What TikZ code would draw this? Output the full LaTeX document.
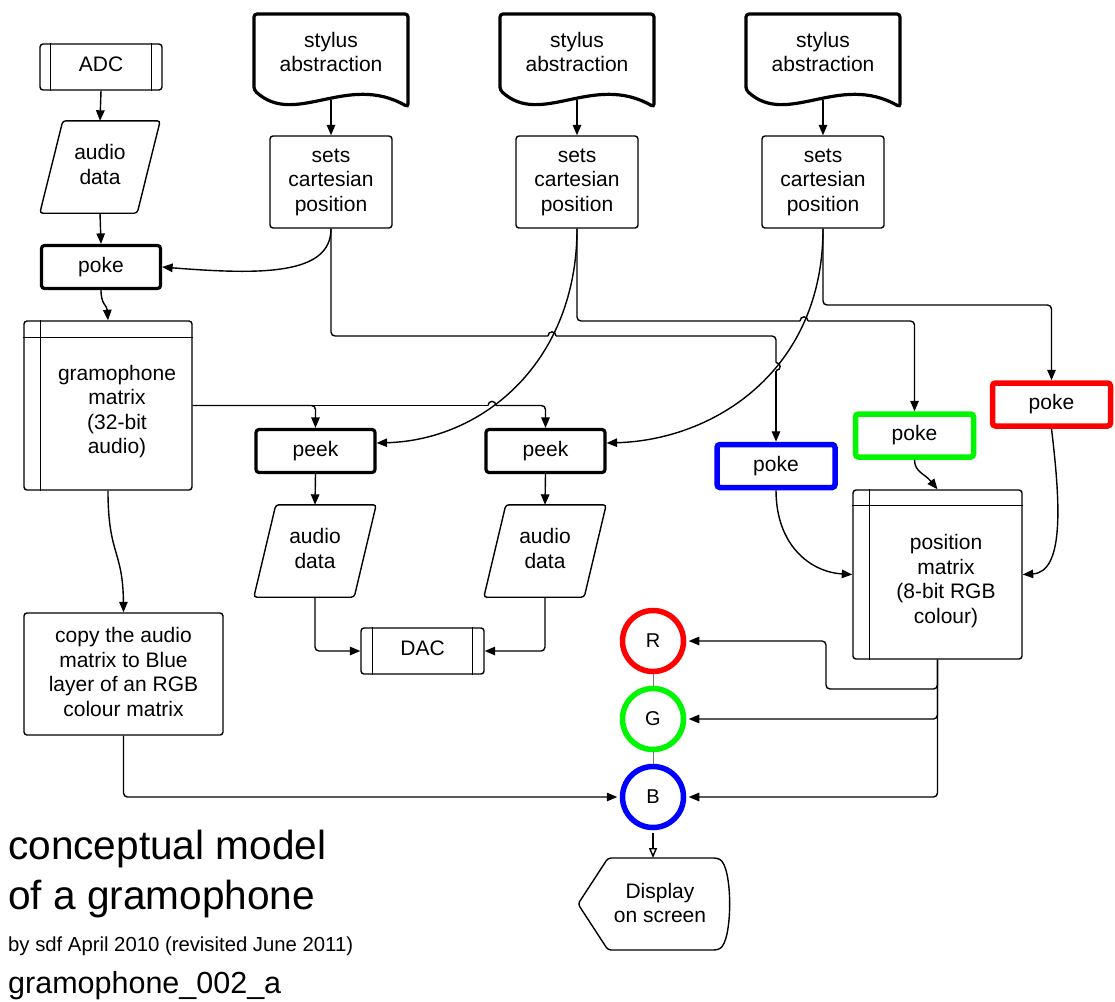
\documentclass[tikz,border=0pt]{standalone}
\usepackage{fontspec}
\setmainfont{Liberation Sans}
\usetikzlibrary{arrows.meta,calc}
\definecolor{pkred}{RGB}{255,0,0}
\definecolor{pkgreen}{RGB}{0,245,0}
\definecolor{pkblue}{RGB}{0,0,255}
\begin{document}
\begin{tikzpicture}[x=1pt,y=-1pt,
  every node/.style={inner sep=0pt, align=center, font=\fontsize{21}{24.5}\selectfont},
  conn/.style={line width=1.4pt},
  arr/.style={conn, -{Triangle[length=10.5pt,width=8.5pt]}},
  plain/.style={draw, line width=1.4pt, rounded corners=3pt},
  smallbox/.style={plain, minimum width=122pt, minimum height=46pt},
  heavybox/.style={draw, line width=3.2pt, rounded corners=3pt, minimum width=119pt, minimum height=43pt},
  colbox/.style={draw=#1, line width=5.5pt, rounded corners=3pt, minimum width=118pt, minimum height=43pt},
  rgb/.style={circle, draw=#1, line width=5.5pt, minimum size=61pt, font=\fontsize{20}{24}\selectfont},
  flow/.style={minimum width=122pt, minimum height=92pt}]

\fill[white] (0,0) rectangle (1115,1001);
\useasboundingbox (0,0) rectangle (1115,1001);

% ---------- left column ----------
\node[smallbox] (adc) at (101,67) {};
\node (adclabel) at (101,64.5) {ADC};
\draw[conn] ($(adc.north west)+(11,0)$) -- ($(adc.south west)+(11,0)$);
\draw[conn] ($(adc.north east)+(-11,0)$) -- ($(adc.south east)+(-11,0)$);

\node[minimum width=120pt, minimum height=92pt] (ad1) at (100,167) {};
\draw[plain] ($(ad1.north west)+(23,0)$) -- (ad1.north east) -- ($(ad1.south east)+(-23,0)$) -- (ad1.south west) -- cycle;
\node (ad1label) at (100,164.5) {audio\\data};

\node[heavybox] (pk0) at (101,267) {poke};

\node[plain, minimum width=168pt, minimum height=169pt] (gm) at (108,405.5) {};
\draw[conn] ($(gm.north west)+(0,17)$) -- ($(gm.north east)+(0,17)$);
\draw[conn] ($(gm.north west)+(17,0)$) -- ($(gm.south west)+(17,0)$);
\node (gmlabel) at (117,411.5) {gramophone\\matrix\\(32-bit\\audio)};

\node[plain, minimum width=199pt, minimum height=122pt] (copy) at (123.5,674) {};
\node (copylabel) at (123.5,672) {copy the audio\\matrix to Blue\\layer of an RGB\\colour matrix};

% ---------- stylus documents and positions ----------
\foreach \cx in {331,577,823} {
  \draw[line width=3.2pt, rounded corners=3pt]
    (\cx-77,90) -- (\cx-77,14) -- (\cx+77,14) -- (\cx+77,107)
    .. controls (\cx+16,72) and (\cx-36,128) .. (\cx-77,90) -- cycle;
}
\node (st1) at (331,52) {stylus\\abstraction};
\node (st2) at (577,52) {stylus\\abstraction};
\node (st3) at (823,52) {stylus\\abstraction};
\coordinate (stb1) at (331,100);
\coordinate (stb2) at (577,100);
\coordinate (stb3) at (823,100);

\node[plain, flow] (s1) at (331,182) {sets\\cartesian\\position};
\node[plain, flow] (s2) at (577,182) {sets\\cartesian\\position};
\node[plain, flow] (s3) at (823,182) {sets\\cartesian\\position};

% ---------- peeks, audio data, DAC ----------
\node[heavybox] (pk1) at (315.5,451) {peek};
\node[heavybox] (pk2) at (545.5,451) {peek};

\node[minimum width=122pt, minimum height=92pt] (ad2) at (315,551) {};
\draw[plain] ($(ad2.north west)+(22,0)$) -- (ad2.north east) -- ($(ad2.south east)+(-22,0)$) -- (ad2.south west) -- cycle;
\node (ad2label) at (315,548.5) {audio\\data};
\node[minimum width=122pt, minimum height=92pt] (ad3) at (545,551) {};
\draw[plain] ($(ad3.north west)+(22,0)$) -- (ad3.north east) -- ($(ad3.south east)+(-22,0)$) -- (ad3.south west) -- cycle;
\node (ad3label) at (545,548.5) {audio\\data};

\node[smallbox, minimum width=123pt] (dac) at (422.5,651) {};
\node (daclabel) at (422.5,648.5) {DAC};
\draw[conn] ($(dac.north west)+(12,0)$) -- ($(dac.south west)+(12,0)$);
\draw[conn] ($(dac.north east)+(-12,0)$) -- ($(dac.south east)+(-12,0)$);

% ---------- colour pokes and position matrix ----------
\node[colbox=pkblue] (bp) at (776,466) {poke};
\node[colbox=pkgreen] (gp) at (914.5,435.5) {poke};
\node[colbox=pkred] (rp) at (1051.5,404.5) {poke};

\node[plain, minimum width=169pt, minimum height=169pt] (pm) at (937.5,574.5) {};
\draw[conn] ($(pm.north west)+(0,16)$) -- ($(pm.north east)+(0,16)$);
\draw[conn] ($(pm.north west)+(17,0)$) -- ($(pm.south west)+(17,0)$);
\node (pmlabel) at (946,581) {position\\matrix\\(8-bit RGB\\colour)};

% ---------- RGB layers and display ----------
\node[rgb=pkred] (R) at (653,641) {R};
\node[rgb=pkgreen] (G) at (653,719) {G};
\node[rgb=pkblue] (B) at (653,797) {B};
\draw[line width=0.9pt, black!55] (R.south) -- (G.north);
\draw[line width=0.9pt, black!55] (G.south) -- (B.north);

\draw[plain] (608,858) -- (717,858) .. controls (733,866) and (733,942) .. (717,950)
  -- (608,950) -- (578,904) -- cycle;
\node (disp) at (660,903) {Display\\on screen};
\coordinate (disptop) at (653,858);

% ---------- connectors ----------
\draw[arr] (adc.south) -- (ad1.north);
\draw[arr] (ad1.south) -- (pk0.north);
\draw[arr] (pk0.south) .. controls (101,305) and (107,305) .. (gm.north);
\draw[arr] (gm.south) .. controls (108,555) and (123,550) .. (copy.north);

\draw[arr] (stb1) -- (s1.north);
\draw[arr] (stb2) -- (s2.north);
\draw[arr] (stb3) -- (s3.north);

% position -> left poke
\draw[arr] (s1.south) .. controls (331,275) and (262,275) .. (pk0.east);

% position 1 -> blue poke (with hops)
\draw[conn, rounded corners=4pt] (s1.south) |- (548,336);
\draw[conn] (548,336) .. controls (548,330.5) and (556,330.5) .. (556,336);
\draw[conn, rounded corners=4pt] (556,336) -| (776,362.5);
\draw[conn] (776,362.5) .. controls (781.5,362.5) and (781.5,370.5) .. (776,370.5);
\draw[arr] (776,370.5) -- (bp.north);

% position 2 -> left peek, green poke
\draw[arr] (s2.south) .. controls (577,360) and (485,440) .. ($(pk1.east)+(0,-8)$);
\draw[conn, rounded corners=4pt] (s2.south) |- (800,321);
\draw[conn] (800,321) .. controls (800,315.5) and (808,315.5) .. (808,321);
\draw[arr, rounded corners=4pt] (808,321) -| (gp.north);

% position 3 -> right peek, red poke
\draw[arr] (s3.south) .. controls (823,370) and (715,440) .. ($(pk2.east)+(0,-8)$);
\draw[arr, rounded corners=4pt] (s3.south) |- (1000,305) -| (rp.north);

% gramophone matrix -> peeks
\draw[arr, rounded corners=4pt] (gm.east) -| (pk1.north);
\draw[conn] (gm.east) -- (488,405.5);
\draw[conn] (488,405.5) .. controls (488,400) and (496,400) .. (496,405.5);
\draw[arr, rounded corners=4pt] (496,405.5) -| (pk2.north);

% peeks -> audio data -> DAC
\draw[arr] (pk1.south) -- (ad2.north);
\draw[arr] (pk2.south) -- (ad3.north);
\draw[arr, rounded corners=4pt] (ad2.south) |- (dac.west);
\draw[arr, rounded corners=4pt] (ad3.south) |- (dac.east);

% colour pokes -> position matrix
\draw[arr] (bp.south) .. controls (776,545) and (810,572) .. (pm.west);
\draw[arr] (gp.south) .. controls (914.5,472) and (925,474) .. (pm.north);
\draw[arr] (rp.south) .. controls (1060,500) and (1065,572) .. (pm.east);

% position matrix -> R, G, B
\draw[arr, rounded corners=4pt, shorten >=2.5pt] (pm.south) |- (B.east);
\draw[arr, rounded corners=4pt, shorten >=2.5pt] (pm.south) |- (G.east);
\draw[arr, rounded corners=4pt, shorten >=2.5pt] (pm.south) -- (937.5,689) -- (826,689) |- (R.east);

% copy -> B
\draw[arr, rounded corners=4pt, shorten >=2.5pt] (copy.south) |- (B.west);

% B -> display
\draw[conn, -{Triangle[open,length=10pt,width=8pt]}, shorten <=2.5pt] (B.south) -- (disptop);

% ---------- captions ----------
\node[anchor=base west, font=\fontsize{40.6}{48}\selectfont] (title1) at (8,859) {conceptual model};
\node[anchor=base west, font=\fontsize{40.6}{48}\selectfont] (title2) at (8,909) {of a gramophone};
\node[anchor=base west, font=\fontsize{20.3}{24}\selectfont] (byline) at (8,951) {by sdf April 2010 (revisited June 2011)};
\node[anchor=base west, font=\fontsize{30.5}{36}\selectfont] (code) at (8,993) {gramophone\_002\_a};

\end{tikzpicture}
\end{document}
